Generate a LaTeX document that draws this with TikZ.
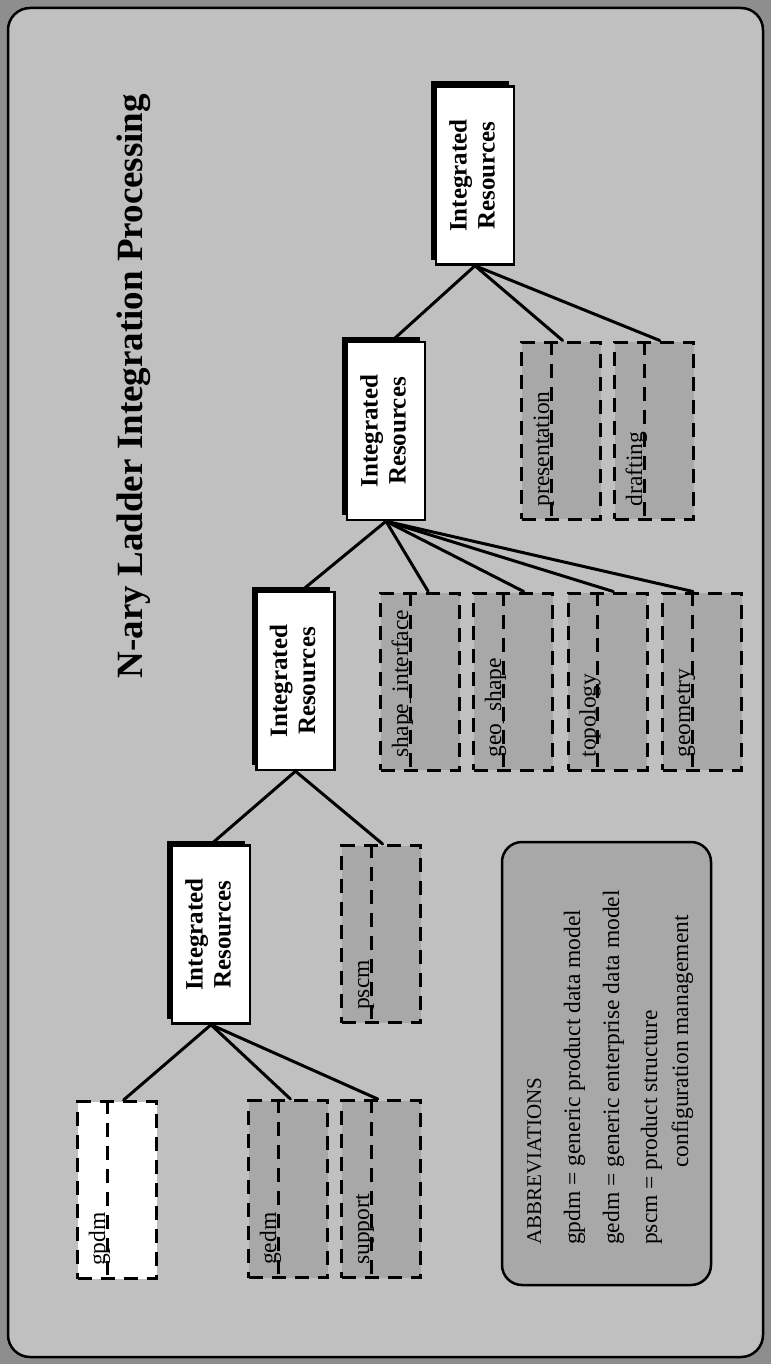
\documentclass[tikz,border=0pt]{standalone}
\usepackage{fontspec}
\setmainfont{Liberation Serif}
\usepackage{graphicx}
\usetikzlibrary{shadows,calc}

\definecolor{pagegray}{HTML}{8E8E8E}
\definecolor{panelgray}{HTML}{C0C0C0}
\definecolor{boxgray}{HTML}{A8A8A8}

% two-line label of an "Integrated Resources" box, turned to read upwards
\newcommand\irtext{\rotatebox{90}{\begin{tabular}{@{}c@{}}Integrated\\Resources\end{tabular}}}

\tikzset{
  irbox/.style={draw, line width=2.5pt, fill=white, minimum width=78pt,
    minimum height=178pt, inner sep=0pt,
    font=\bfseries\fontsize{25}{28}\selectfont,
    drop shadow={shadow xshift=-5pt, shadow yshift=5pt, fill=black, opacity=1}},
  modbox/.style={draw, line width=3pt, dash pattern=on 14pt off 9pt,
    fill=boxgray, minimum width=79pt, minimum height=177pt, inner sep=0pt},
  divider/.style={line width=3pt, dash pattern=on 14pt off 9pt},
  modlabel/.style={rotate=90, anchor=base west, inner sep=0pt,
    font=\fontsize{23.5}{28}\selectfont},
  abbrline/.style={rotate=90, anchor=base west, inner sep=0pt,
    font=\fontsize{23.5}{28}\selectfont},
  link/.style={line width=3pt, line cap=round},
}

\begin{document}
\begin{tikzpicture}[x=1pt, y=-1pt]
\useasboundingbox (0,0) rectangle (771,1364);

% page and framed panel
\fill[pagegray] (0,0) rectangle (771,1364);
\draw[line width=2.5pt, fill=panelgray, rounded corners=22pt] (8,8) rectangle (763,1357);

% title
\node[rotate=90, anchor=base, inner sep=0pt, font=\bfseries\fontsize{37}{40}\selectfont]
  (title) at (142,386) {N-ary Ladder Integration Processing};

% module boxes (dashed)
\node[modbox] (presentation) at (561,430.5) {};
\node[modbox] (drafting)     at (654,430.5) {};
\node[modbox] (shapeif)      at (420,681.5) {};
\node[modbox] (geoshape)     at (513,681.5) {};
\node[modbox] (topology)     at (607.5,681.5) {};
\node[modbox] (geometry)     at (702,681.5) {};
\node[modbox] (pscm)         at (381,934) {};
\node[modbox, fill=white] (gpdm) at (117,1190) {};
\node[modbox] (gedm)         at (288,1189) {};
\node[modbox] (support)      at (381,1189) {};

% inner dividers and labels of the module boxes
\foreach \m/\t in {presentation/presentation, drafting/drafting,
                   shapeif/shape\_interface, geoshape/geo\_shape,
                   topology/topology, geometry/geometry, pscm/pscm,
                   gpdm/gpdm, gedm/gedm, support/support}{
  \draw[divider] ($(\m.north west)+(31,0)$) -- ($(\m.south west)+(31,0)$);
  \node[modlabel] (\m-label) at ($(\m.south west)+(29,-14)$) {\t};
}

% integrated resources boxes
\node[irbox] (ir4) at (475,175.5) {\irtext};
\node[irbox] (ir3) at (386,431)   {\irtext};
\node[irbox] (ir2) at (295.5,681) {\irtext};
\node[irbox] (ir1) at (211,934.5) {\irtext};

% connectors
\draw[link] (ir4.south) -- ($(ir3.north)+(6,0)$);
\draw[link] (ir4.south) -- ($(presentation.north west)!0.52!(presentation.north east)$);
\draw[link] (ir4.south) -- ($(drafting.north west)!0.57!(drafting.north east)$);

\draw[link] (ir3.south) -- ($(ir2.north)+(6,0)$);
\draw[link] (ir3.south) -- ($(shapeif.north west)!0.6!(shapeif.north east)$);
\draw[link] (ir3.south) -- ($(geoshape.north west)!0.63!(geoshape.north east)$);
\draw[link] (ir3.south) -- ($(topology.north west)!0.57!(topology.north east)$);
\draw[link] (ir3.south) -- ($(geometry.north west)!0.39!(geometry.north east)$);

\draw[link] (ir2.south) -- (ir1.north);
\draw[link] (ir2.south) -- ($(pscm.north west)!0.52!(pscm.north east)$);

\draw[link] (ir1.south) -- ($(gpdm.north west)!0.58!(gpdm.north east)$);
\draw[link] (ir1.south) -- ($(gedm.north west)!0.53!(gedm.north east)$);
\draw[link] (ir1.south) -- ($(support.north west)!0.46!(support.north east)$);

% abbreviations panel
\node[draw, line width=2.5pt, rounded corners=20pt, fill=boxgray,
  minimum width=209pt, minimum height=443pt, inner sep=0pt] (abbr) at (606.5,1063.5) {};
\node[abbrline, font=\fontsize{21}{24}\selectfont] (abbr-head) at (541,1245) {ABBREVIATIONS};
\node[abbrline] (abbr-gpdm) at (580,1245) {gpdm = generic product data model};
\node[abbrline] (abbr-gedm) at (619,1245) {gedm = generic enterprise data model};
\node[abbrline] (abbr-pscm) at (657,1245) {pscm = product structure};
\node[abbrline] (abbr-pscm2) at (688,1168) {configuration management};
\end{tikzpicture}
\end{document}
